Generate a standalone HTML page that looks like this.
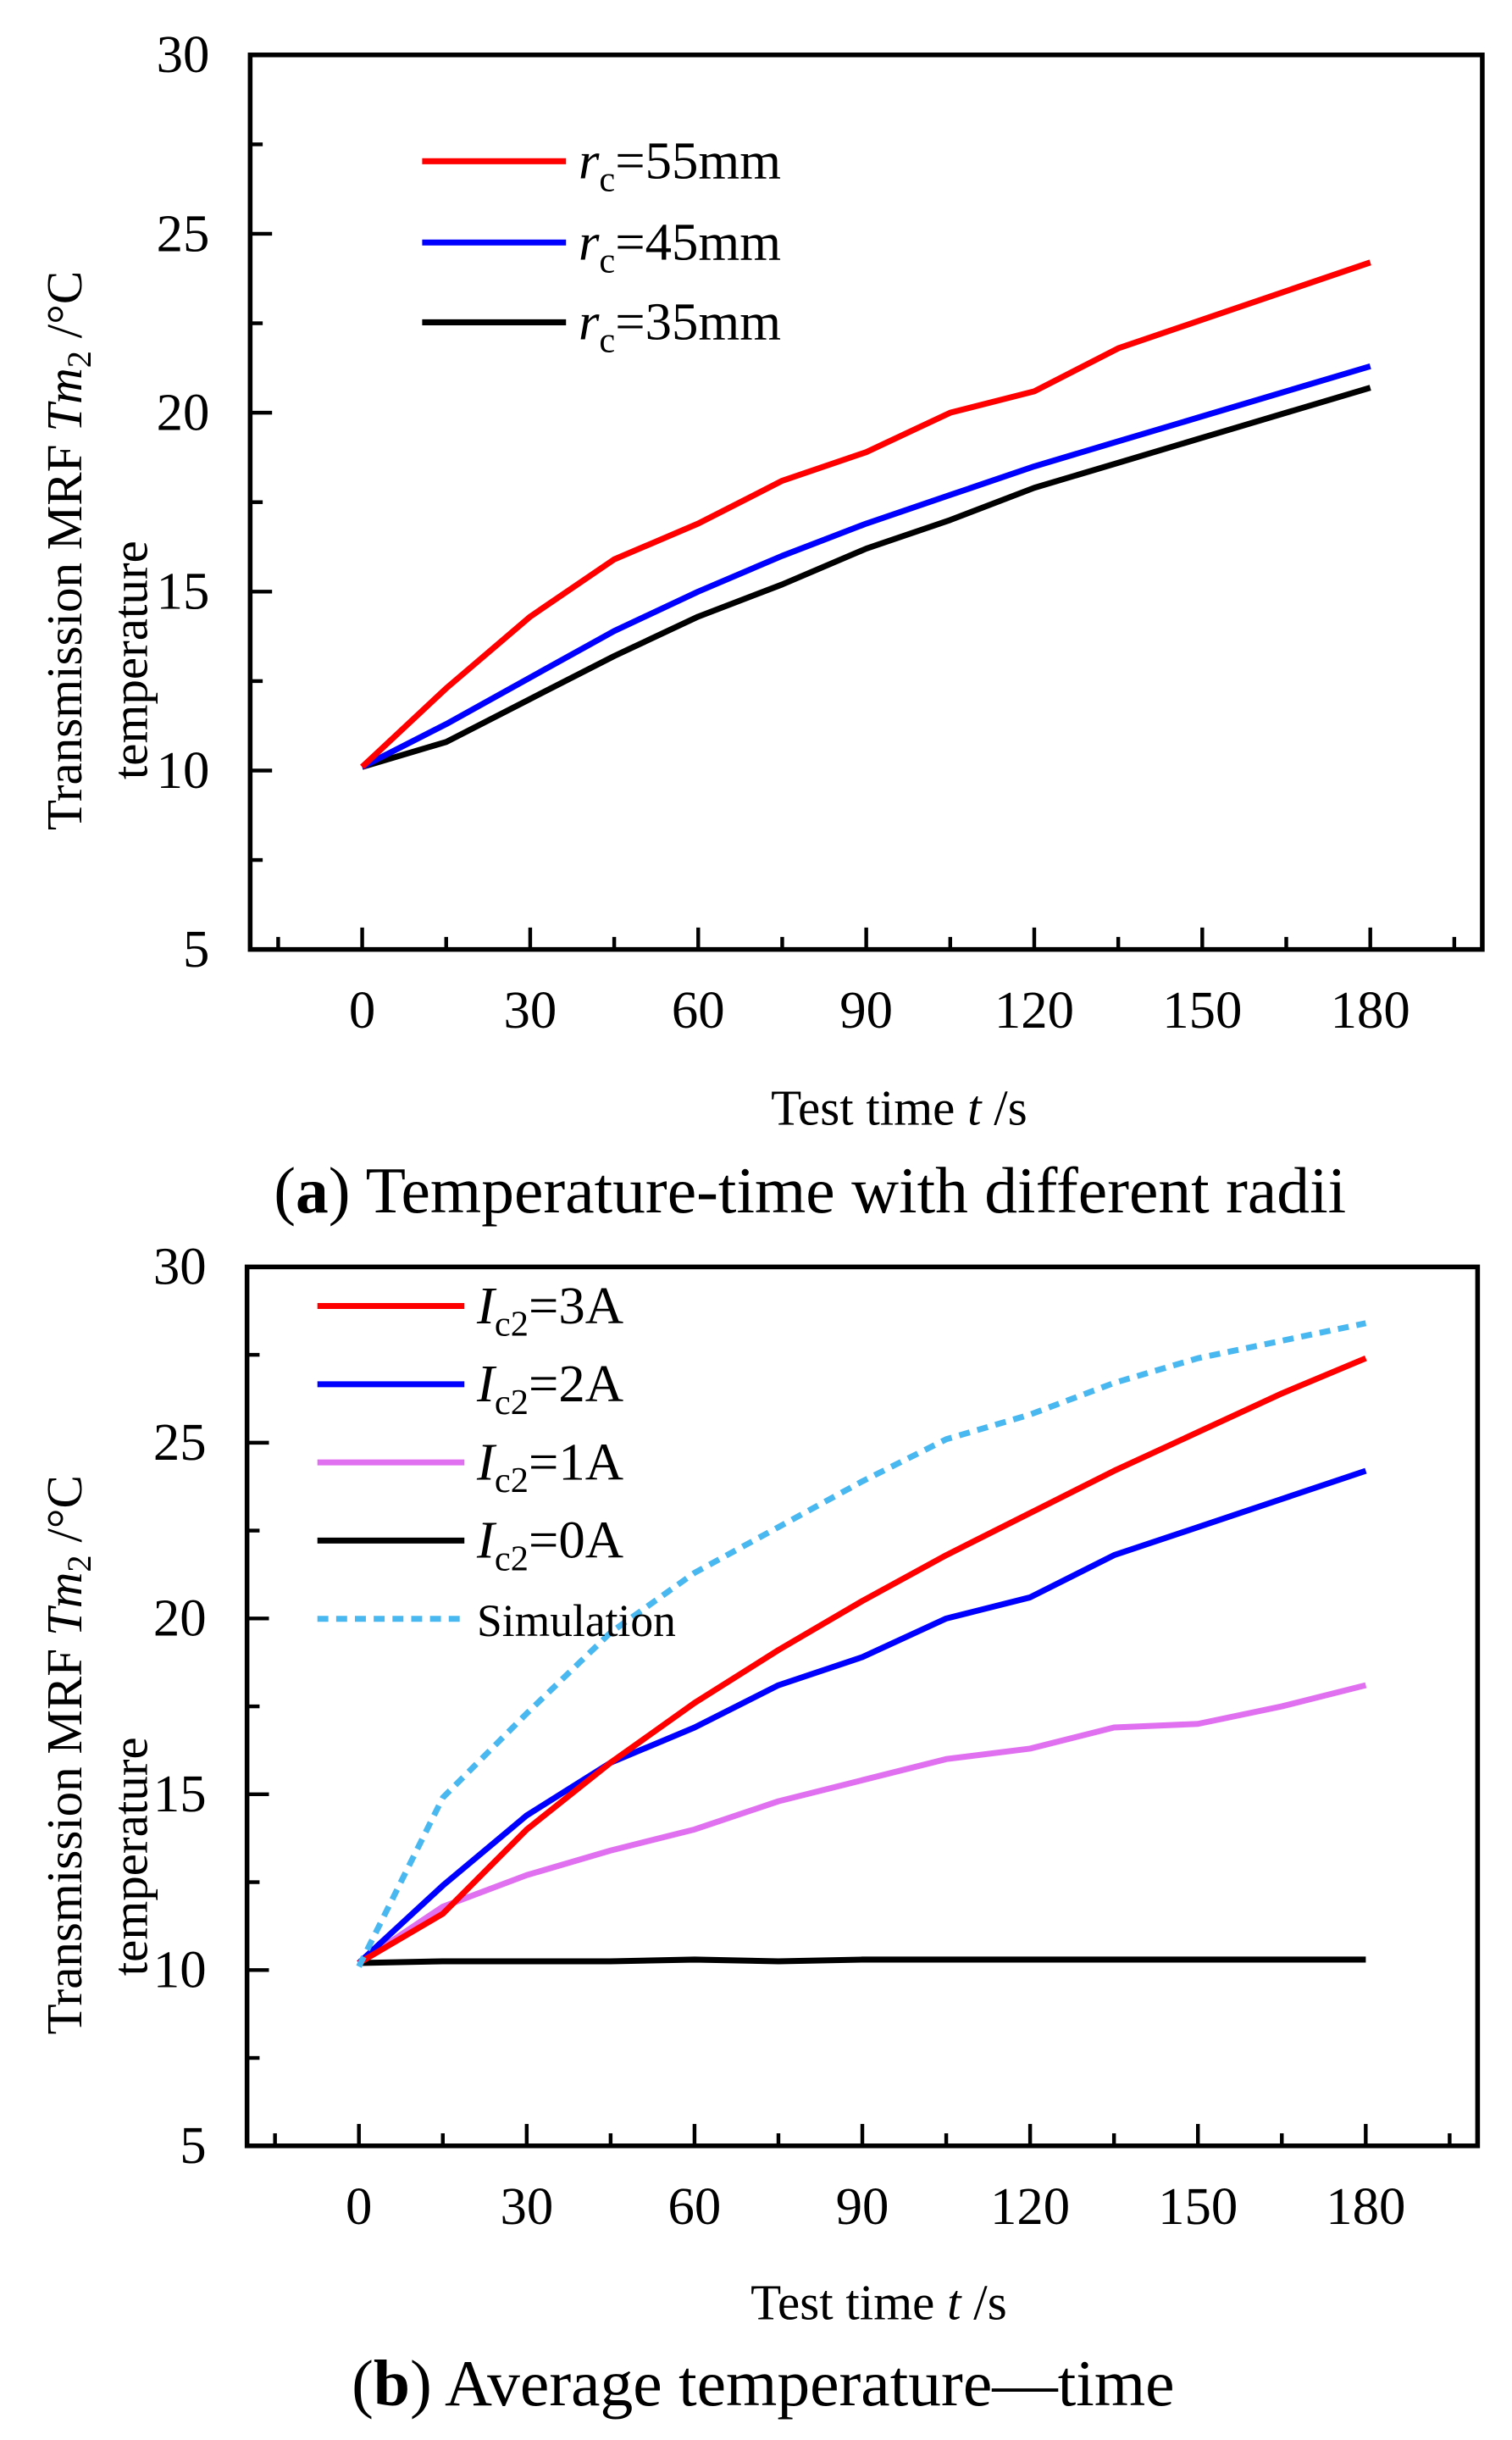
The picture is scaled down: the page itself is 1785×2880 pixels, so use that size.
<!DOCTYPE html>
<html><head><meta charset="utf-8"><style>
html,body{margin:0;padding:0;background:#fff;}
svg{display:block;font-family:"Liberation Serif",serif;}
</style></head><body>
<svg id="fig" width="1785" height="2880" viewBox="0 0 967 1560" xmlns="http://www.w3.org/2000/svg">
<g id="ga"></g>
<g id="gb"></g>
</svg>
<script>
const timesA = [0,15,30,45,60,75,90,105,120,135,150,165,180];
const red55 = [10.1,12.3,14.3,15.9,16.9,18.1,18.9,20.0,20.6,21.8,22.6,23.4,24.2];
const blue45 = [10.1,11.3,12.6,13.9,15.0,16.0,16.9,17.7,18.5,19.2,19.9,20.6,21.3];
const black35 = [10.1,10.8,12.0,13.2,14.3,15.2,16.2,17.0,17.9,18.6,19.3,20.0,20.7];
const timesB = [0,15,30,45,60,75,90,105,120,135,150,165,180];
const i3A = [10.2,11.6,14.0,15.9,17.6,19.1,20.5,21.8,23.0,24.2,25.3,26.4,27.4];
const i2A = [10.2,12.4,14.4,15.9,16.9,18.1,18.9,20.0,20.6,21.8,22.6,23.4,24.2];
const i1A = [10.2,11.8,12.7,13.4,14.0,14.8,15.4,16.0,16.3,16.9,17.0,17.5,18.1];
const i0A = [10.2,10.25,10.25,10.25,10.3,10.25,10.3,10.3,10.3,10.3,10.3,10.3,10.3];
const simB = [10.1,14.9,17.3,19.6,21.3,22.6,23.9,25.1,25.8,26.7,27.4,27.9,28.4];
const xTicks = [0,30,60,90,120,150,180];
const yTicks = [5,10,15,20,25,30];

const NS="http://www.w3.org/2000/svg";
function mk(parent,tag,attrs,text){const e=document.createElementNS(NS,tag);for(const k in attrs)e.setAttribute(k,attrs[k]);if(text!==undefined)e.textContent=text;parent.appendChild(e);return e;}

function chart(g,box,series,legend,xtitle,caption,yl){
  const X=v=>box.l+(v-(-20))/(220)*(box.r-box.l);
  const Y=v=>box.b-(v-5)/25*(box.b-box.t);
  const f=mk(g,'rect',{x:box.l,y:box.t,width:box.r-box.l,height:box.b-box.t,fill:'none',stroke:'#000','stroke-width':3});
  
  
  for(let v=-15;v<=195;v+=15){const maj=v%30===0;const t=mk(g,'line',{x1:X(v),x2:X(v),y1:box.b,y2:box.b-(maj?14:8),stroke:'#000','stroke-width':2.4});
    }
  for(let v=5;v<=30;v+=2.5){const maj=v%5===0;const t=mk(g,'line',{x1:box.l,x2:box.l+(maj?14:8),y1:Y(v),y2:Y(v),stroke:'#000','stroke-width':2.4});
    }
  xTicks.forEach(v=>{const t=mk(g,'text',{x:X(v),y:box.b+50,'font-size':34,'text-anchor':'middle'},String(v));
    });
  yTicks.forEach(v=>{const t=mk(g,'text',{x:box.l-26,y:Y(v)+11,'font-size':34,'text-anchor':'end'},String(v));
    });
  series.forEach(s=>{const pts=s.x.map((t,i)=>X(t).toFixed(1)+','+Y(s.y[i]).toFixed(1)).join(' ');
    const p=mk(g,'polyline',{points:pts,fill:'none',stroke:s.c,'stroke-width':3.8,'stroke-linejoin':'round','stroke-dasharray':s.d||'none'});
    });
  legend.forEach(L=>{const l=mk(g,'line',{x1:L.x1,x2:L.x2,y1:L.y,y2:L.y,stroke:L.c,'stroke-width':3.8,'stroke-dasharray':L.d||'none'});
    
    const t=mk(g,'text',{x:L.x2+8,y:L.y+11,'font-size':L.fs||34});t.innerHTML=L.html;
    });
  const yt=mk(g,'text',{transform:`translate(52,${yl.c1}) rotate(-90)`,'font-size':32,'text-anchor':'middle'});
  yt.innerHTML='Transmission MRF  <tspan font-style="italic">Tm</tspan><tspan font-size="22" dy="6">2</tspan><tspan dy="-6"> /°C</tspan>';
  
  const yt2=mk(g,'text',{transform:`translate(94,${yl.c2}) rotate(-90)`,'font-size':32,'text-anchor':'middle'},'temperature');
  
  const xt=mk(g,'text',{x:xtitle.x,y:xtitle.y,'font-size':32,'text-anchor':'middle'});xt.innerHTML=xtitle.html;
  
  const cp=mk(g,'text',{x:caption.x,y:caption.y,'font-size':42,'text-anchor':'middle'});cp.innerHTML=caption.html;
  
}
const sub='<tspan font-size="23" dy="8">c</tspan><tspan dy="-8">';
chart(document.getElementById('ga'),{l:160,r:948,t:35,b:607},
 [{x:timesA,y:black35,c:'#000',name:'line-35mm'},{x:timesA,y:blue45,c:'#0000ff',name:'line-45mm'},{x:timesA,y:red55,c:'#ff0000',name:'line-55mm'}],
 [{x1:270,x2:362,y:103,c:'#ff0000',html:'<tspan font-style="italic">r</tspan>'+sub+'=55mm</tspan>'},
  {x1:270,x2:362,y:155,c:'#0000ff',html:'<tspan font-style="italic">r</tspan>'+sub+'=45mm</tspan>'},
  {x1:270,x2:362,y:206,c:'#000',html:'<tspan font-style="italic">r</tspan>'+sub+'=35mm</tspan>'}],
 {x:575,y:719,html:'Test time <tspan font-style="italic">t</tspan> /s'},
 {x:518,y:775,html:'(<tspan font-weight="bold">a</tspan>) Temperature-time with different radii'},
 {c1:352,c2:422});
const sub2='<tspan font-size="23" dy="8">c2</tspan><tspan dy="-8">';
chart(document.getElementById('gb'),{l:158,r:945,t:810,b:1372},
 [{x:timesB,y:i0A,c:'#000',name:'line-0A'},{x:timesB,y:i1A,c:'#e070f0',name:'line-1A'},{x:timesB,y:i2A,c:'#0000ff',name:'line-2A'},{x:timesB,y:i3A,c:'#ff0000',name:'line-3A'},{x:timesB,y:simB,c:'#4ab8f0',d:'7,5',name:'line-simulation'}],
 [{x1:203,x2:297,y:835,c:'#ff0000',html:'<tspan font-style="italic">I</tspan>'+sub2+'=3A</tspan>'},
  {x1:203,x2:297,y:885,c:'#0000ff',html:'<tspan font-style="italic">I</tspan>'+sub2+'=2A</tspan>'},
  {x1:203,x2:297,y:935,c:'#e070f0',html:'<tspan font-style="italic">I</tspan>'+sub2+'=1A</tspan>'},
  {x1:203,x2:297,y:985,c:'#000',html:'<tspan font-style="italic">I</tspan>'+sub2+'=0A</tspan>'},
  {x1:203,x2:297,y:1035,c:'#4ab8f0',d:'7,5',fs:29,html:'Simulation'}],
 {x:562,y:1483,html:'Test time  <tspan font-style="italic">t</tspan> /s'},
 {x:488,y:1538,html:'(<tspan font-weight="bold">b</tspan>) Average temperature—time'},
 {c1:1122,c2:1187});
</script>
</body></html>
